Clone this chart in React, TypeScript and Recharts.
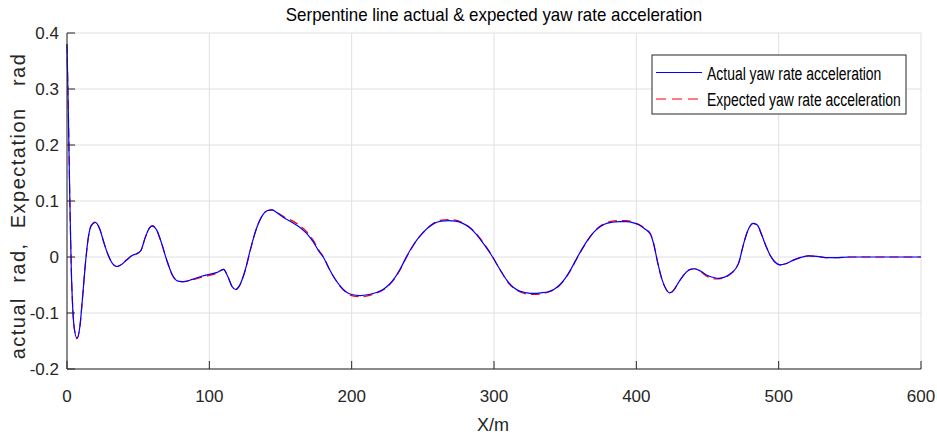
import React from 'react';
import { LineChart, Line, XAxis, YAxis, CartesianGrid, Customized } from 'recharts';

const xs = [0,1,2,3,4,5,7,9,11,13,15,17,20,23,26,29,32,35,38,42,46,50,52,55,58,60,63,66,70,74,78,82,88,95,100,105,110,113,116,118.5,121,125,129,133,137,141,144,148,153,158,163,168,173,177,180,184,188,192,196,200,206,212,218,222,226,230,234,238,242,246,250,254,258,263,268,273,278,282,286,290,294,298,302,306,310,314,318,323,328,333,338,342,346,350,354,358,362,366,370,374,378,383,388,393,398,402,406,410,412,415,418,421,423.5,426,430,434,438,441,445,450,455,458,462,466,470,472,475,478,482,485,488,491,494,497,501,505,510,515,521,527,533,540,550,560,580,600];

const actual = [0.38,0.25,0.10,-0.02,-0.09,-0.125,-0.145,-0.125,-0.07,-0.01,
0.035,0.056,0.062,0.05,0.025,0.003,-0.012,-0.017,-0.014,-0.005,
0.003,0.007,0.012,0.035,0.052,0.055,0.048,0.028,-0.005,-0.032,
-0.043,-0.044,-0.04,-0.034,-0.031,-0.028,-0.022,-0.035,-0.053,-0.058,
-0.052,-0.025,0.015,0.05,0.073,0.083,0.084,0.078,0.069,0.062,
0.054,0.043,0.027,0.01,0.0,-0.02,-0.038,-0.052,-0.062,-0.067,
-0.069,-0.067,-0.063,-0.058,-0.05,-0.038,-0.022,-0.002,0.016,0.031,
0.043,0.053,0.06,0.064,0.065,0.064,0.06,0.054,0.045,0.033,
0.019,0.004,-0.013,-0.03,-0.045,-0.055,-0.061,-0.064,-0.065,-0.064,
-0.062,-0.058,-0.05,-0.038,-0.022,-0.003,0.015,0.031,0.044,0.053,
0.059,0.062,0.063,0.063,0.061,0.057,0.05,0.04,0.025,-0.01,
-0.04,-0.058,-0.064,-0.06,-0.044,-0.03,-0.022,-0.021,-0.025,-0.033,
-0.037,-0.038,-0.036,-0.03,-0.02,-0.01,0.02,0.045,0.06,0.057,
0.04,0.02,0.003,-0.008,-0.014,-0.012,-0.006,-0.001,0.002,0.001,
-0.001,-0.001,0,0,0,0];

const expected = [0.38,0.25,0.10,-0.02,-0.09,-0.125,-0.146,-0.126,-0.07,-0.01,
0.035,0.056,0.063,0.05,0.025,0.003,-0.012,-0.017,-0.014,-0.005,
0.003,0.007,0.012,0.035,0.052,0.056,0.048,0.028,-0.005,-0.032,
-0.043,-0.044,-0.041,-0.036,-0.033,-0.029,-0.022,-0.035,-0.053,-0.058,
-0.052,-0.026,0.014,0.05,0.073,0.083,0.084,0.079,0.071,0.065,
0.057,0.046,0.03,0.012,0.001,-0.02,-0.038,-0.053,-0.063,-0.069,
-0.071,-0.069,-0.064,-0.059,-0.051,-0.039,-0.023,-0.003,0.015,0.031,
0.043,0.053,0.061,0.066,0.067,0.066,0.061,0.055,0.046,0.034,
0.02,0.005,-0.013,-0.03,-0.046,-0.056,-0.062,-0.066,-0.067,-0.066,
-0.063,-0.059,-0.051,-0.039,-0.023,-0.004,0.014,0.03,0.044,0.054,
0.06,0.064,0.065,0.065,0.062,0.058,0.051,0.041,0.026,-0.01,
-0.04,-0.058,-0.065,-0.06,-0.044,-0.03,-0.022,-0.021,-0.026,-0.035,
-0.039,-0.039,-0.037,-0.031,-0.02,-0.01,0.02,0.045,0.06,0.057,
0.04,0.02,0.003,-0.008,-0.014,-0.012,-0.006,-0.001,0.002,0.001,
-0.001,-0.001,0,0,0,0];

const xTicks = [0, 100, 200, 300, 400, 500, 600];
const yTicks = [-0.2, -0.1, 0, 0.1, 0.2, 0.3, 0.4];

const title = 'Serpentine line actual & expected yaw rate acceleration';
const xLabel = 'X/m';
const yLabel = 'actual  rad,  Expectation   rad';
const legendNames = ['Actual yaw rate acceleration', 'Expected yaw rate acceleration'];

const data = xs.map((x, i) => ({ x, actual: actual[i], expected: expected[i] }));

const FONT = "'Liberation Sans', Arial, sans-serif";
const AX = '#262626';

const fmtY = (v: number) => (Math.abs(v) < 1e-9 ? '0' : String(Math.round(v * 10) / 10));

const Decor = () => (
  <g>
    <text transform="translate(494,21) scale(0.94,1)" textAnchor="middle" fontFamily={FONT} fontSize={18} fill="#000">{title}</text>
    <text x={493} y={431} textAnchor="middle" fontFamily={FONT} fontSize={18} fill={AX}>{xLabel}</text>
    <text
      x={0}
      y={0}
      transform="translate(25,206) rotate(-90)"
      textAnchor="middle"
      fontFamily={FONT}
      fontSize={20}
      letterSpacing={1.5}
      fill={AX}
      style={{ whiteSpace: 'pre' }}
    >{yLabel}</text>
    <rect x={652} y={55} width={254} height={59} fill="#fff" stroke={AX} strokeWidth={1} />
    <line x1={656} x2={702} y1={72.5} y2={72.5} stroke="#0000ff" strokeWidth={1.2} />
    <line x1={656} x2={702} y1={99} y2={99} stroke="#ff0000" strokeWidth={1.2} strokeDasharray="10 6" />
    <text transform="translate(707,80) scale(0.775,1)" fontFamily={FONT} fontSize={18} fill="#000">{legendNames[0]}</text>
    <text transform="translate(707,105.5) scale(0.775,1)" fontFamily={FONT} fontSize={18} fill="#000">{legendNames[1]}</text>
  </g>
);

const Empty = () => <g />;

export default function App() {
  return (
    <div style={{ position: 'fixed', left: 0, top: 0, background: '#fff' }}>
      <LineChart width={937} height={436} data={data} margin={{ top: 33, right: 16, bottom: 0, left: 0 }}>
        <CartesianGrid stroke="#e0e0e0" strokeWidth={1} />
        <XAxis
          dataKey="x"
          type="number"
          domain={[0, 600]}
          ticks={xTicks}
          height={67}
          tickSize={-8}
          tickMargin={29}
          stroke={AX}
          tick={{ fontFamily: FONT, fontSize: 17, fill: AX }}
          interval={0}
        />
        <XAxis
          xAxisId="top"
          orientation="top"
          dataKey="x"
          type="number"
          domain={[0, 600]}
          ticks={xTicks}
          height={0}
          tickSize={-8}
          stroke={AX}
          tick={Empty}
          interval={0}
        />
        <YAxis
          type="number"
          domain={[-0.2, 0.4]}
          ticks={yTicks}
          width={67}
          tickSize={-8}
          tickMargin={16}
          stroke={AX}
          tickFormatter={fmtY}
          tick={{ fontFamily: FONT, fontSize: 17, fill: AX }}
          interval={0}
        />
        <YAxis
          yAxisId="right"
          orientation="right"
          type="number"
          domain={[-0.2, 0.4]}
          ticks={yTicks}
          width={0}
          tickSize={-8}
          stroke={AX}
          tick={Empty}
          interval={0}
        />
        <Line dataKey="expected" type="monotone" stroke="#ff0000" strokeWidth={1.2} strokeDasharray="9 5" dot={false} isAnimationActive={false} />
        <Line dataKey="actual" type="monotone" stroke="#0000ff" strokeWidth={1.2} dot={false} isAnimationActive={false} />
        <Customized component={Decor} />
      </LineChart>
    </div>
  );
}
